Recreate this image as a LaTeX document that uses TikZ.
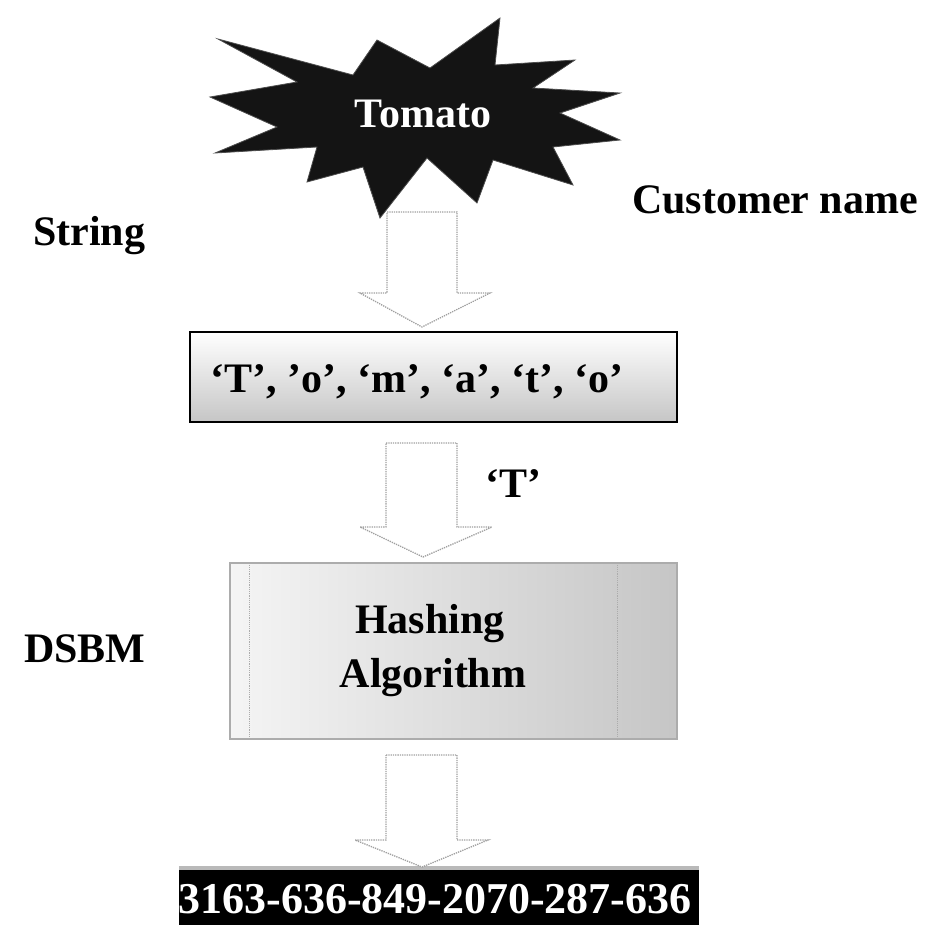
\documentclass[tikz,border=0pt]{standalone}
\usepackage{fontspec}
\setmainfont{Liberation Serif}
\begin{document}
\begin{tikzpicture}[x=1bp,y=-1bp,
  lbl/.style={font=\fontsize{42bp}{54bp}\selectfont\bfseries, inner sep=0pt},
  barrow/.style={draw=gray!75, densely dotted, line width=1.3bp, fill=white},
  burst/.style={fill=black!92, draw=black!70, line width=0.8bp, line join=miter}]
\useasboundingbox (0,0) rectangle (943,928);

% starburst
\draw[burst] (218,39) -- (353,75) -- (377,40) -- (430,68) -- (500,18) -- (495,65)
  -- (575,60) -- (533,88) -- (620,93) -- (560,113) -- (620,140) -- (553,147)
  -- (573,185) -- (493,160) -- (477,203) -- (427,158) -- (380,218) -- (363,167)
  -- (307,182) -- (317,147) -- (215,153) -- (277,127) -- (210,97) -- (297,82) -- cycle;
\node[lbl, text=white, anchor=base] (tomato) at (423,127) {Tomato};

% side labels
\node[lbl, anchor=base west] (cust) at (632,213) {Customer name};
\node[lbl, anchor=base west] (string) at (33,245) {String};
\node[lbl, anchor=base west] (dsbm) at (24,662) {DSBM};

% box 1
\node[draw=black, line width=1.6bp, top color=white, bottom color=gray!45,
  minimum width=487bp, minimum height=90bp, inner sep=0pt] (chars) at (433.5,377) {};
\node[lbl, anchor=base] (charstxt) at (417,392) {‘T’, ’o’, ‘m’, ‘a’, ‘t’, ‘o’};

% box 2
\node[draw=gray!65, line width=1.2bp, left color=gray!8, right color=gray!45,
  minimum width=447bp, minimum height=176bp, inner sep=0pt] (hash) at (453.5,651) {};
\draw[gray!65, densely dotted, line width=1.2bp] ([xshift=20bp]hash.north west) -- ([xshift=20bp]hash.south west);
\draw[gray!65, densely dotted, line width=1.2bp] ([xshift=-60bp]hash.north east) -- ([xshift=-60bp]hash.south east);
\node[lbl, anchor=base] (hash1) at (430,633) {Hashing};
\node[lbl, anchor=base] (hash2) at (433,687) {Algorithm};

% bottom result box
\node[fill=black, minimum width=520bp, minimum height=59bp, inner sep=0pt] (result) at (439,895.5) {};
\draw[gray!55, line width=4bp] ([yshift=-2bp]result.north west) -- ([yshift=-2bp]result.north east);
\node[font=\fontsize{44bp}{50bp}\selectfont\bfseries, text=white, inner sep=0pt, anchor=base] (resulttxt) at (435,913) {3163-636-849-2070-287-636};

% block arrows
\coordinate (a1) at (422,212);
\draw[barrow] (387,212) -- (457,212) -- (457,293) -- (490,293) -- (422,327) -- (360,293) -- (387,293) -- cycle;
\coordinate (a2) at (422,443);
\draw[barrow] (386,443) -- (457,443) -- (457,527) -- (492,527) -- (423,557) -- (360,527) -- (386,527) -- cycle;
\coordinate (a3) at (422,755);
\draw[barrow] (386,755) -- (457,755) -- (457,840) -- (488,840) -- (422,867) -- (355,840) -- (386,840) -- cycle;

\node[lbl, anchor=base west] (tlabel) at (485,497) {‘T’};
\end{tikzpicture}
\end{document}
